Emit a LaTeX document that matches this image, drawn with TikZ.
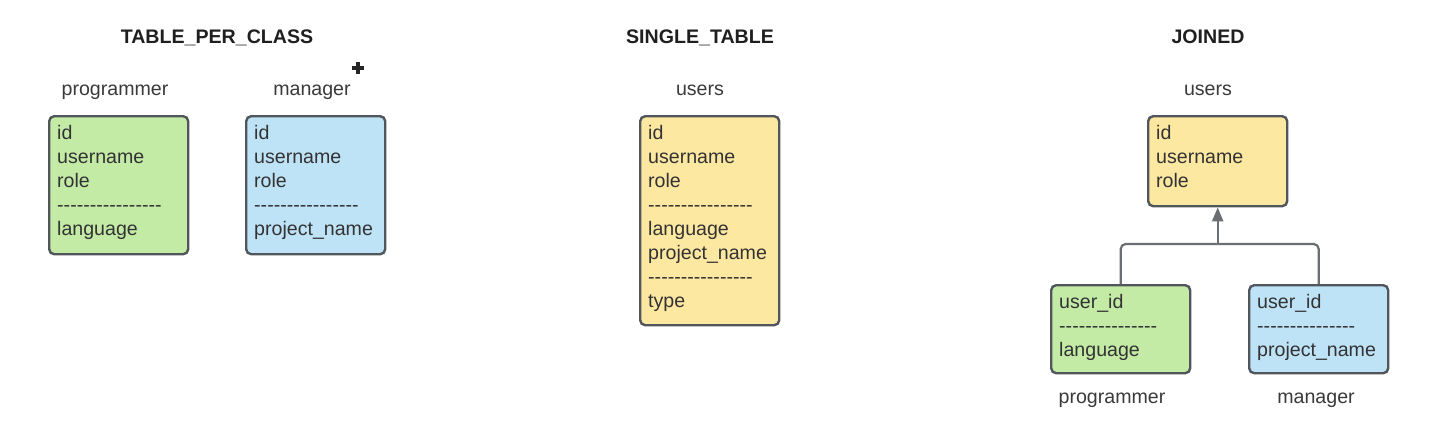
\documentclass[tikz,border=0pt]{standalone}
\usepackage{fontspec}
\setmainfont{Liberation Sans}
\usetikzlibrary{arrows.meta}
\definecolor{gfill}{HTML}{C3EBA6}
\definecolor{bfill}{HTML}{BFE3F6}
\definecolor{yfill}{HTML}{FDE8A2}
\definecolor{bordc}{HTML}{50565B}
\definecolor{txtc}{HTML}{333333}
\definecolor{lblc}{HTML}{3A3A3A}
\definecolor{linec}{HTML}{6A6E72}
\newcommand\hy[1]{\foreach \i in {1,...,#1}{-}}
\begin{document}
\begin{tikzpicture}[x=1pt,y=-1pt,
  font=\fontsize{19.6pt}{24pt}\selectfont,
  tbl/.style={draw=bordc, line width=2.4pt, rounded corners=5pt, inner sep=0pt,
     anchor=north west, minimum width=139pt},
  row/.style={anchor=base west, inner sep=0pt, text=txtc},
  lbl/.style={anchor=base, inner sep=0pt, text=lblc},
  ttl/.style={anchor=base, inner sep=0pt, text=black!88, font=\fontsize{19.6pt}{24pt}\selectfont\bfseries},
  conn/.style={draw=linec, line width=2.2pt, rounded corners=5pt}]
\useasboundingbox[fill=white] (0,0) rectangle (1435,424);

% titles
\node[ttl] (t1) at (217,43) {TABLE\_PER\_CLASS};
\node[ttl] (t2) at (700,43) {SINGLE\_TABLE};
\node[ttl] (t3) at (1208,43) {JOINED};

% TABLE_PER_CLASS
\node[lbl] (l1) at (115,95) {programmer};
\node[lbl] (l2) at (312,95) {manager};
\node[tbl, fill=gfill, minimum height=138pt] (pg) at (48,115) {};
\node[tbl, fill=bfill, minimum height=138pt] (mg) at (245,115) {};
\foreach \t [count=\k from 0] in {id,username,role,\hy{16},language}
  \node[row] (pgr\k) at (57,139+24*\k) {\t};
\foreach \t [count=\k from 0] in {id,username,role,\hy{16},project\_name}
  \node[row] (mgr\k) at (254,139+24*\k) {\t};
% cursor icon
\coordinate (cur) at (358,68);
\draw[black!85, line width=3.4pt] ([xshift=-6pt]cur) -- ([xshift=6pt]cur);
\draw[black!85, line width=3.4pt] ([yshift=-6pt]cur) -- ([yshift=6pt]cur);

% SINGLE_TABLE
\node[lbl] (l3) at (700,95) {users};
\node[tbl, fill=yfill, minimum height=209pt] (st) at (639,115) {};
\foreach \t [count=\k from 0] in {id,username,role,\hy{16},language,project\_name,\hy{16},type}
  \node[row] (str\k) at (648,139+24*\k) {\t};

% JOINED
\node[lbl] (l4) at (1208,95) {users};
\node[tbl, fill=yfill, minimum height=90pt] (ju) at (1147,115) {};
\foreach \t [count=\k from 0] in {id,username,role}
  \node[row] (jur\k) at (1156,139+24*\k) {\t};
\node[tbl, fill=gfill, minimum height=88pt] (jp) at (1050,284) {};
\node[tbl, fill=bfill, minimum height=88pt] (jm) at (1248,284) {};
\foreach \t [count=\k from 0] in {user\_id,\hy{15},language}
  \node[row] (jpr\k) at (1059,308+24*\k) {\t};
\foreach \t [count=\k from 0] in {user\_id,\hy{15},project\_name}
  \node[row] (jmr\k) at (1257,308+24*\k) {\t};
\node[lbl] (l5) at (1112,403) {programmer};
\node[lbl] (l6) at (1316,403) {manager};

\coordinate (jn) at (ju.south |- 0,244);
\draw[conn] (jp.north) |- (jn);
\draw[conn] (jm.north) |- (jn);
\draw[draw=linec, line width=2.2pt, -{Triangle[width=11pt,length=14pt]}, fill=linec] (jn) -- (ju.south);
\end{tikzpicture}
\end{document}
